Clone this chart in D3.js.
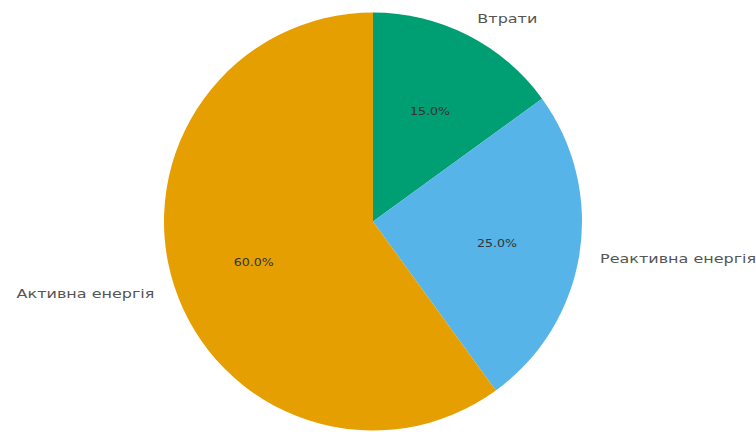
<!DOCTYPE html>
<html>
<head>
<meta charset="utf-8">
<script src="https://cdn.jsdelivr.net/npm/d3@7"></script>
<style>
  html, body { margin: 0; padding: 0; background: #fff; }
  svg { display: block; }
</style>
</head>
<body>
<svg id="chart" width="756" height="432"></svg>
<script>
// Energy balance shares, drawn clockwise from 12 o'clock
const categories = ["Втрати", "Реактивна енергія", "Активна енергія"];
const shares = [15, 25, 60];
const colors = ["#009E73", "#56B4E9", "#E69F00"];

const width = 756, height = 432;
const cx = 373, cy = 221.5, radius = 209;
const pctStretch = 1.2;   // wide lettering for percentages
const lblStretch = 1.23;  // wide lettering for category names

const svg = d3.select("#chart");
const g = svg.append("g").attr("transform", `translate(${cx},${cy})`);

const pie = d3.pie().sort(null).value(d => d.value);
const data = pie(categories.map((c, i) => ({ name: c, value: shares[i], color: colors[i] })));
const total = d3.sum(shares);

const arc = d3.arc().innerRadius(0).outerRadius(radius);
const pctArc = d3.arc().innerRadius(radius * 0.6).outerRadius(radius * 0.6);
const lblArc = d3.arc().innerRadius(radius * 1.1).outerRadius(radius * 1.1);

g.selectAll("path.slice")
  .data(data)
  .join("path")
  .attr("class", "slice")
  .attr("d", arc)
  .attr("fill", d => d.data.color);

g.selectAll("text.pct")
  .data(data)
  .join("text")
  .attr("class", "pct")
  .attr("transform", d => { const [x, y] = pctArc.centroid(d); return `translate(${x},${y + 2}) scale(${pctStretch},1)`; })
  .attr("text-anchor", "middle")
  .attr("dominant-baseline", "central")
  .attr("font-family", "DejaVu Sans, sans-serif")
  .attr("font-size", 10.5)
  .attr("fill", "#333")
  .text(d => (d.data.value / total * 100).toFixed(1) + "%");

g.selectAll("text.lbl")
  .data(data)
  .join("text")
  .attr("class", "lbl")
  .attr("transform", d => { const [x, y] = lblArc.centroid(d); return `translate(${x},${y + 1}) scale(${lblStretch},1)`; })
  .attr("text-anchor", d => lblArc.centroid(d)[0] >= 0 ? "start" : "end")
  .attr("dominant-baseline", "central")
  .attr("font-family", "DejaVu Sans, sans-serif")
  .attr("font-size", 13)
  .attr("fill", "#555")
  .text(d => d.data.name);
</script>
</body>
</html>
